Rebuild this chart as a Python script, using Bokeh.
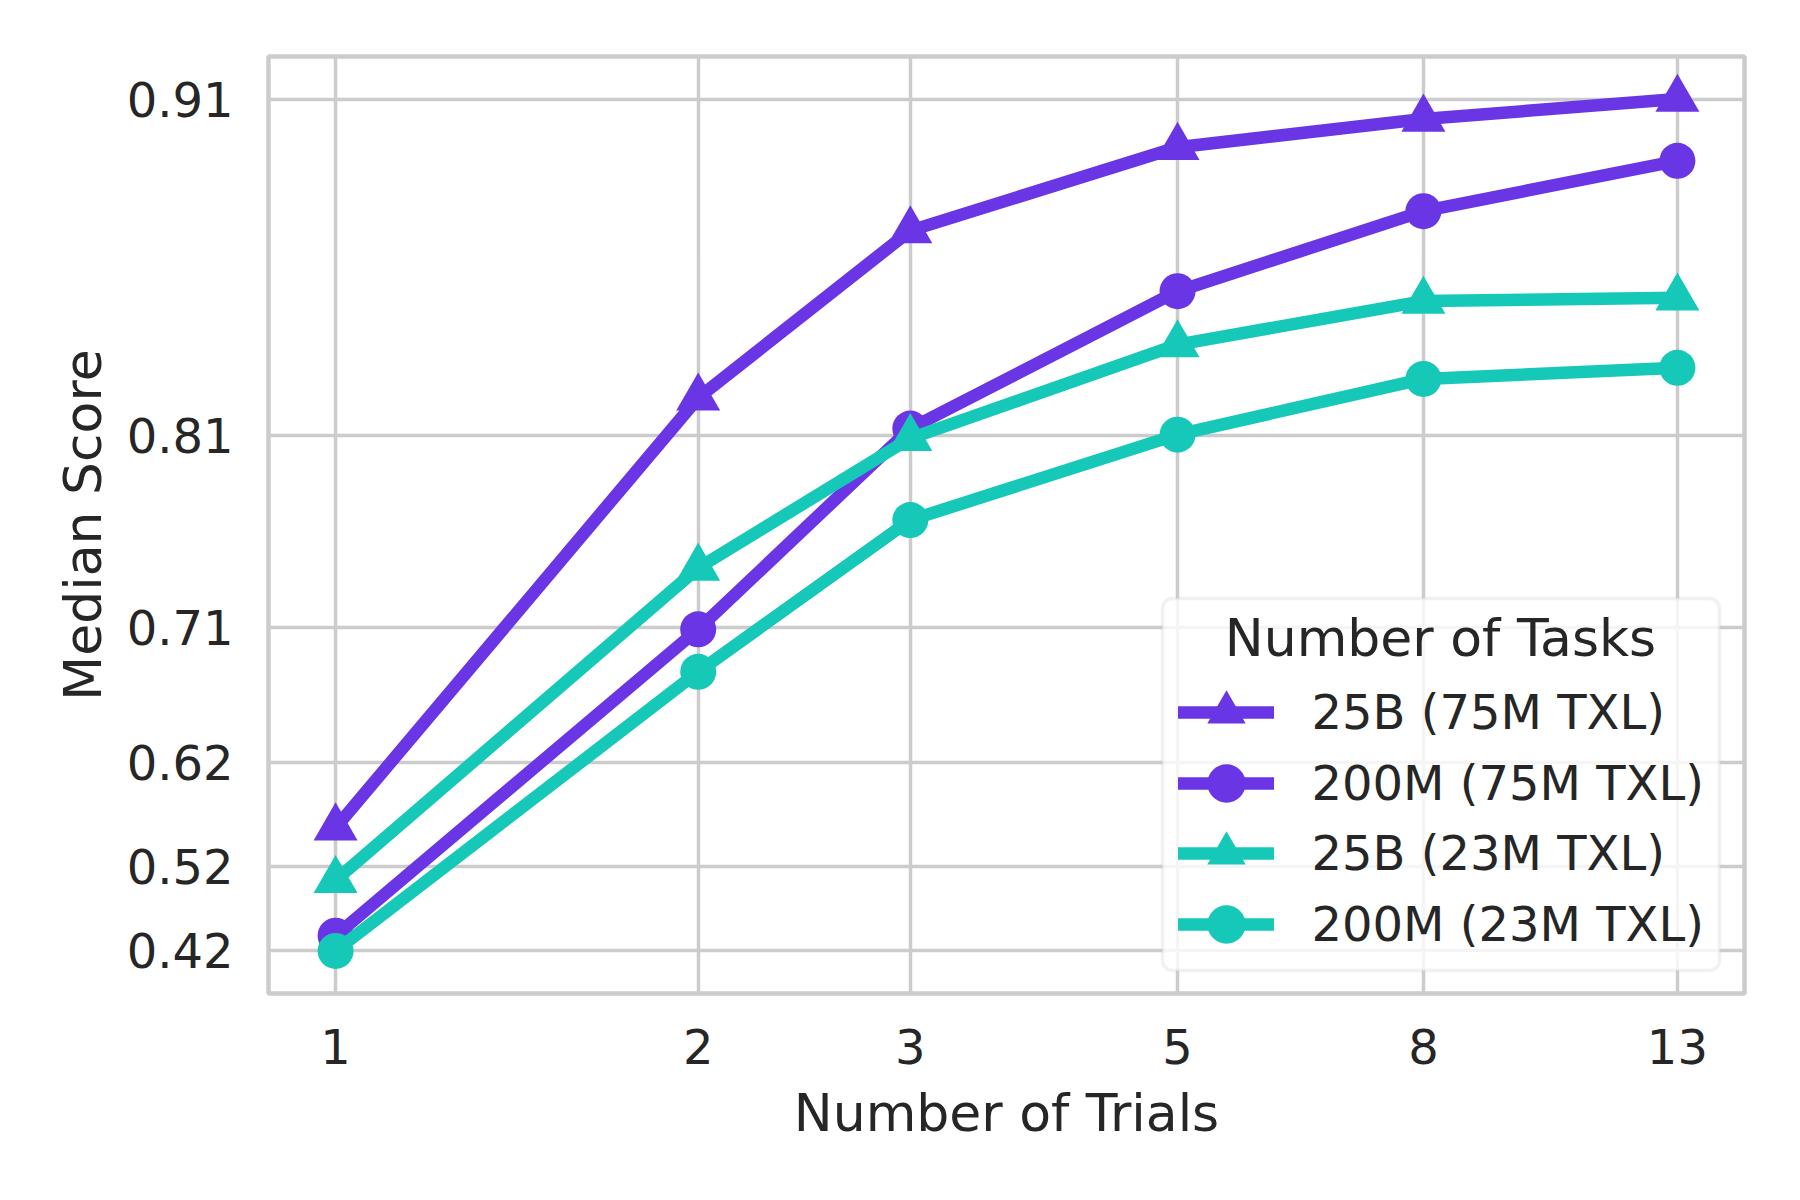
import math
import numpy as np
from bokeh.plotting import figure
from bokeh.models import (Range1d, FixedTicker, CustomJSTickFormatter, Legend,
                          LegendItem, BoxAnnotation, Label)
from bokeh.embed import file_html
from bokeh.resources import INLINE

# ---------------- data ----------------
trials = [1, 2, 3, 5, 8, 13]
x_tick_labels = ["1", "2", "3", "5", "8", "13"]

series_names = ["25B (75M TXL)", "200M (75M TXL)", "25B (23M TXL)", "200M (23M TXL)"]
score_25b_75m = [0.557, 0.827, 0.880, 0.900, 0.906, 0.910]
score_200m_75m = [0.439, 0.713, 0.815, 0.863, 0.885, 0.897]
score_25b_23m = [0.503, 0.749, 0.811, 0.846, 0.860, 0.861]
score_200m_23m = [0.420, 0.685, 0.774, 0.8125, 0.834, 0.838]
series_scores = [score_25b_75m, score_200m_75m, score_25b_23m, score_200m_23m]

series_colors = ["#6A35E4", "#6A35E4", "#16C8B8", "#16C8B8"]
series_markers = ["triangle", "circle", "triangle", "circle"]
series_marker_sizes = [44, 36, 44, 36]

y_tick_labels = ["0.42", "0.52", "0.62", "0.71", "0.81", "0.91"]

# ---------------- scales ----------------
all_scores = [v for s in series_scores for v in s]
y_min, y_max = min(all_scores), max(all_scores)
y_tick_values = list(np.linspace(y_min, y_max, 6))
# y axis: log scale of (1 - score), inverted so that higher scores are higher
err_ticks = [float(1.0 - t) for t in y_tick_values]
v_lo, v_hi = math.log(1 - y_max), math.log(1 - y_min)
span = v_hi - v_lo
y_bottom = math.exp(v_hi + 0.05 * span)
y_top = math.exp(v_lo - 0.05 * span)

lx_lo, lx_hi = math.log(min(trials)), math.log(max(trials))
xspan = lx_hi - lx_lo
x_start = math.exp(lx_lo - 0.05 * xspan)
x_end = math.exp(lx_hi + 0.05 * xspan)

TEXT = "#262626"
GRID = "#cccccc"
FONT = "DejaVu Sans"

p = figure(width=1784, height=1184,
           x_axis_type="log", y_axis_type="log",
           x_range=Range1d(x_start, x_end), y_range=Range1d(y_bottom, y_top),
           output_backend="svg", toolbar_location=None,
           min_border_left=268, min_border_right=40,
           min_border_top=56, min_border_bottom=191,
           background_fill_color="white", border_fill_color="white",
           outline_line_color=GRID, outline_line_width=4.5)

nearest_js = """
let best = 0;
for (let i = 0; i < tvals.length; i++) {
  if (Math.abs(tvals[i] - tick) < Math.abs(tvals[best] - tick)) best = i;
}
return tlabels[best];
"""

p.xaxis.ticker = FixedTicker(ticks=trials)
p.xaxis.formatter = CustomJSTickFormatter(args=dict(tvals=trials, tlabels=x_tick_labels), code=nearest_js)
p.yaxis.ticker = FixedTicker(ticks=err_ticks)
p.yaxis.formatter = CustomJSTickFormatter(args=dict(tvals=err_ticks, tlabels=y_tick_labels), code=nearest_js)
p.xgrid.ticker = FixedTicker(ticks=trials)
p.ygrid.ticker = FixedTicker(ticks=err_ticks)

p.xaxis.axis_label = "Number of Trials"
p.yaxis.axis_label = "Median Score"

for ax in (p.xaxis, p.yaxis):
    ax.axis_line_color = None
    ax.major_tick_line_color = None
    ax.minor_tick_line_color = None
    ax.major_tick_out = 0
    ax.major_tick_in = 0
    ax.minor_tick_out = 0
    ax.major_label_text_font = FONT
    ax.major_label_text_font_size = "48px"
    ax.major_label_text_color = TEXT
    ax.axis_label_text_font = FONT
    ax.axis_label_text_font_size = "52px"
    ax.axis_label_text_font_style = "normal"
    ax.axis_label_text_color = TEXT

p.xaxis.major_label_standoff = 35
p.yaxis.major_label_standoff = 35
p.xaxis.axis_label_standoff = 16
p.yaxis.axis_label_standoff = 11

for g in (p.xgrid, p.ygrid):
    g.grid_line_color = GRID
    g.grid_line_width = 3.5

items = []
for name, scores, color, marker, msize in zip(series_names, series_scores, series_colors,
                                             series_markers, series_marker_sizes):
    err = [1.0 - s for s in scores]
    rl = p.line(trials, err, line_color=color, line_width=12.5,
                line_cap="round", line_join="round")
    rm = p.scatter(trials, err, marker=marker, size=msize,
                   fill_color=color, line_color=None)
    items.append(LegendItem(label=name, renderers=[rl, rm]))

# legend frame (screen units, relative to the plot frame)
box = BoxAnnotation(left=894, right=1451, bottom=23, top=395,
                    left_units="screen", right_units="screen",
                    top_units="screen", bottom_units="screen",
                    fill_color="white", fill_alpha=0.8,
                    line_color="#cfcfcf", line_width=3.5, border_radius=10)
p.add_layout(box)

# one legend per row, so that the rows can sit closer than the glyph box
row_bottoms = [232.7, 162.0, 91.7, 21.0]
for item, yb in zip(items, row_bottoms):
    lg = Legend(items=[item], location=(909.5, yb), orientation="vertical",
                padding=0, margin=0, spacing=0,
                glyph_width=96, glyph_height=96, label_height=96,
                label_standoff=38,
                label_text_font=FONT, label_text_font_size="48px",
                label_text_color=TEXT,
                border_line_color=None, background_fill_alpha=0)
    p.add_layout(lg)

title = Label(x=1172, y=356, x_units="screen", y_units="screen",
              text="Number of Tasks", text_align="center",
              text_baseline="alphabetic", text_font=FONT,
              text_font_size="52px", text_color=TEXT)
p.add_layout(title)

open("out.html", "w").write(file_html(p, INLINE))
